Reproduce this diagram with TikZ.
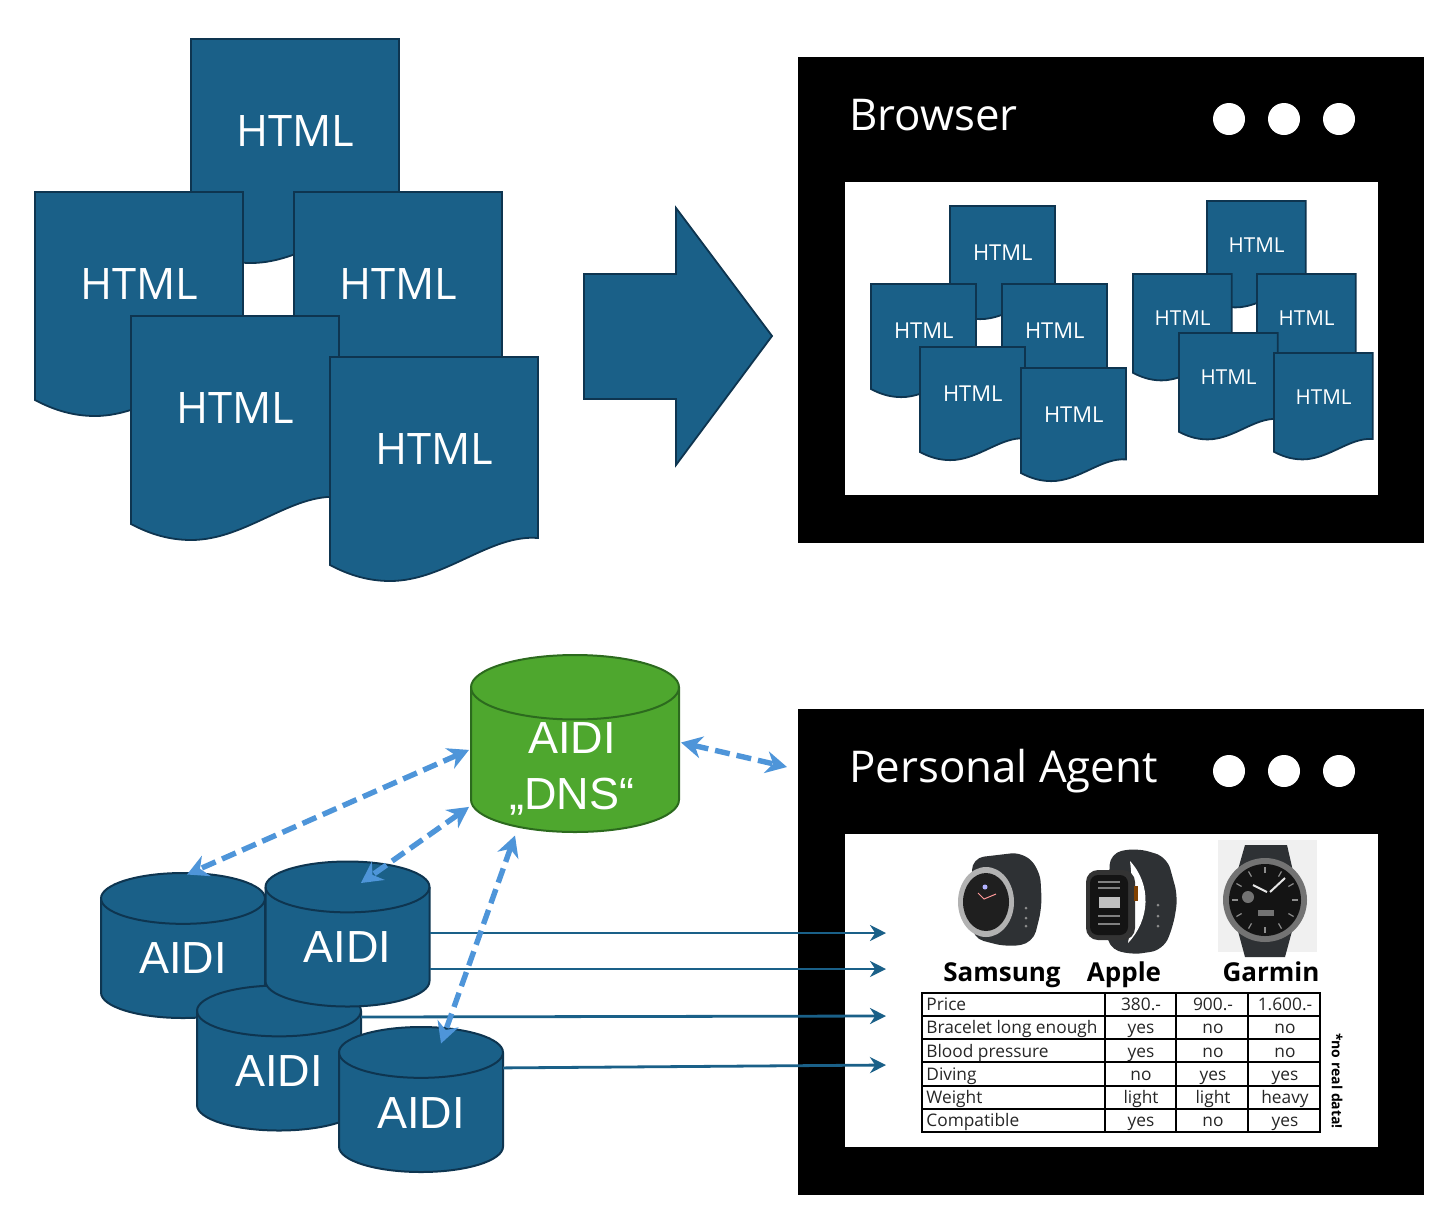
\documentclass[tikz,border=0pt]{standalone}
\usepackage{fontspec}
\setmainfont{Open Sans}
\newfontfamily\arialfont{Liberation Sans}
\usetikzlibrary{arrows.meta,calc}

\definecolor{docblue}{HTML}{1A6088}
\definecolor{docline}{HTML}{0E3550}
\definecolor{dnsgreen}{HTML}{4EA72E}
\definecolor{dnsline}{HTML}{2C6A1E}
\definecolor{linkblue}{HTML}{4E95D9}
\definecolor{strapgray}{HTML}{2E3134}

\tikzset{
    doc/.style={fill=docblue,draw=docline,line width=0.9pt},
    doclabel/.style={text=white,font=\fontsize{21.7}{24}\selectfont,transform shape,inner sep=0pt},
    window/.style={fill=black,minimum width=313pt,minimum height=243pt,inner sep=0pt,outer sep=0pt},
    pane/.style={fill=white,minimum width=266.5pt,minimum height=156.5pt,inner sep=0pt,outer sep=0pt},
    wintitle/.style={text=white,anchor=west,inner sep=0pt,font=\fontsize{21.9}{24}\selectfont},
    dot/.style={circle,fill=white,minimum size=16pt,inner sep=0pt},
    aidibody/.style={fill=docblue,draw=docline,line width=1pt},
    dnsbody/.style={fill=dnsgreen,draw=dnsline,line width=1pt},
    cyltext/.style={text=white,inner sep=0pt,font=\arialfont\fontsize{22.5}{28}\selectfont,align=center},
    flow/.style={draw=docblue,line width=1.4pt,-{Stealth[length=8pt,width=8pt]}},
    link/.style={draw=linkblue,line width=2.7pt,dash pattern=on 7.5pt off 3.5pt,
        {Stealth[length=10.5pt,width=11pt]}-{Stealth[length=10.5pt,width=11pt]}},
    cell/.style={inner sep=0pt,text=black!85,text height=6pt,text depth=1.5pt,font=\fontsize{8.65}{10}\selectfont},
    brand/.style={inner sep=0pt,anchor=base,font=\bfseries\fontsize{13}{14}\selectfont},
}

% one page: left, top, scale, name
\newcommand{\htmlpage}[4]{
    \begin{scope}[shift={(#1,#2)},scale=#3]
        \draw[doc] (0,0) -- (208,0) -- (208,181)
            .. controls (160,177) and (115,224) .. (60,224)
            .. controls (35,224) and (15,216) .. (0,208) -- cycle;
        \node[doclabel] (#4) at (104.5,92) {HTML};
    \end{scope}
}
% drum: name, centre x, centre y, half width, half height, style
\newcommand{\drum}[6]{
    \begin{scope}[shift={(#2,#3)}]
        \pgfmathsetmacro{\ry}{0.31*#4}
        \pgfmathsetmacro{\yt}{#5-\ry}
        \draw[#6] (-#4,-\yt) -- (-#4,\yt)
            arc[start angle=180,end angle=0,x radius=#4,y radius=\ry] -- (#4,-\yt)
            arc[start angle=0,end angle=-180,x radius=#4,y radius=\ry] -- cycle;
        \draw[#6,fill=none] (-#4,-\yt) arc[start angle=180,end angle=0,x radius=#4,y radius=\ry];
    \end{scope}
    \node[minimum width=#4pt,minimum height=#5pt,inner sep=0pt,outer sep=0pt] (#1) at (#2,#3) {};
}
\newcommand{\aidi}[3]{
    \drum{#1}{#2}{#3}{82}{72.5}{aidibody}
    \node[cyltext] (#1txt) at ([yshift=-6.5pt]#1.center) {AIDI};
}

\begin{document}
\begin{tikzpicture}[x=0.5pt,y=-0.5pt]
    \useasboundingbox (0,0) rectangle (1456,1206);

    % stacked pages
    \htmlpage{191}{39}{1}{top}
    \htmlpage{35}{192}{1}{left}
    \htmlpage{294}{192}{1}{right}
    \htmlpage{131}{316}{1}{mid}
    \htmlpage{330}{357}{1}{front}

    % big arrow
    \draw[doc] (584,274) -- (676,274) -- (676,208) -- (772,336) -- (676,465) -- (676,399) -- (584,399) -- cycle;

    % browser window
    \node[window] (browser) at (1111,300) {};
    \node[pane] (browserpane) at (1111.5,338.5) {};
    \node[wintitle] (browsertitle) at (849,115) {Browser};
    \foreach \i/\x in {1/1229,2/1284,3/1339}
        \node[dot] (bdot\i) at (\x,119) {};

    \htmlpage{950}{206}{0.505}{atop}
    \htmlpage{871}{284}{0.505}{aleft}
    \htmlpage{1002}{284}{0.505}{aright}
    \htmlpage{920}{347}{0.505}{amid}
    \htmlpage{1021}{368}{0.505}{afront}

    \htmlpage{1207}{201}{0.475}{btop}
    \htmlpage{1133}{274}{0.475}{bleft}
    \htmlpage{1257}{274}{0.475}{bright}
    \htmlpage{1179}{333}{0.475}{bmid}
    \htmlpage{1274}{353}{0.475}{bfront}

    % agent window
    \node[window] (agent) at (1111,951.5) {};
    \node[pane] (agentpane) at (1111.5,990.5) {};
    \node[wintitle] (agenttitle) at (849,771) {Personal Agent};
    \foreach \i/\x in {1/1229,2/1284,3/1339}
        \node[dot] (adot\i) at (\x,771) {};

    % samsung watch
    \fill[strapgray,rounded corners=6pt] (972,858) -- (1023,852) -- (1040,870) -- (1042,907)
        -- (1033,943) -- (1007,947) -- (972,938) -- cycle;
    \fill[black!30] (986,902) ellipse [x radius=28,y radius=35];
    \fill[black!88] (986,902) ellipse [x radius=23,y radius=29];
    \fill[white!70!blue] (985,887) circle (2.5);
    \draw[red!40!white,line width=0.5pt] (978,893) -- (984,899) -- (996,894);
    \foreach \y in {908,918,926}
        \fill[black!45] (1026,\y) circle (1.5);

    % apple watch
    \fill[strapgray,rounded corners=6pt] (1110,853) -- (1137,848) -- (1167,857) -- (1178,897)
        -- (1173,927) -- (1163,950) -- (1130,955) -- (1107,947) -- cycle;
    \fill[white] (1130,861) .. controls (1152,885) and (1150,920) .. (1128,943)
        .. controls (1133,915) and (1133,885) .. (1130,861);
    \fill[black!80,rounded corners=6pt] (1086,870) rectangle (1135,940);
    \fill[black!92,rounded corners=4pt] (1090,875) rectangle (1128,935);
    \fill[black!25] (1099,897) rectangle (1120,908);
    \foreach \y in {882,888,916,924}
        \draw[black!50,line width=0.8pt] (1098,\y) -- (1120,\y);
    \fill[orange!50!black] (1134,886) rectangle (1138,901);
    \foreach \y in {905,916,926}
        \fill[black!45] (1158,\y) circle (1.5);

    % garmin watch
    \fill[black!6] (1218,840) rectangle (1317,952);
    \fill[strapgray] (1245,845) -- (1287,845) -- (1295,880) -- (1295,920) -- (1285,957) -- (1245,957) -- (1235,920) -- (1235,880) -- cycle;
    \fill[black!55] (1265,900) circle (42);
    \fill[black!92] (1265,900) circle (36);
    \foreach \a in {0,30,...,330}
        \draw[black!45,line width=0.6pt] (1265,900) ++(\a:27) -- ++(\a:6);
    \draw[white!90!black,line width=1pt] (1267,892) -- (1253,885) (1270,892) -- (1285,878);
    \fill[black!55] (1248,897) circle (6);
    \fill[black!55] (1258,910) rectangle (1274,916);

    % brand names
    \node[brand] (samsung) at (1002,981) {Samsung};
    \node[brand] (apple) at (1124,981) {Apple};
    \node[brand] (garmin) at (1271,981) {Garmin};

    % table
    \draw[line width=0.6pt] (922,993) rectangle (1320,1132);
    \foreach \x in {1105,1176,1248}
        \draw[line width=0.6pt] (\x,993) -- (\x,1132);
    \foreach \y in {1016,1039,1062,1086,1109}
        \draw[line width=0.6pt] (922,\y) -- (1320,\y);
    \foreach \lab/\sam/\app/\gar [count=\r] in {
        Price/380.-/900.-/1.600.-,
        Bracelet long enough/yes/no/no,
        Blood pressure/yes/no/no,
        Diving/no/yes/yes,
        Weight/light/light/heavy,
        Compatible/yes/no/yes}
    {
        \pgfmathsetmacro{\ypos}{994.5+23.2*(\r-0.5)}
        \node[cell,anchor=west] (lab\r) at (926,\ypos) {\lab};
        \node[cell] (sam\r) at (1141,\ypos) {\sam};
        \node[cell] (app\r) at (1213,\ypos) {\app};
        \node[cell] (gar\r) at (1285,\ypos) {\gar};
    }
    \node[inner sep=0pt,rotate=-90,font=\bfseries\fontsize{7}{9}\selectfont] (note) at (1337,1081) {*no real data!};

    % cylinders
    \aidi{aidiA}{183}{945.5}
    \aidi{aidiC}{279}{1058}
    \aidi{aidiB}{347.5}{934}
    \aidi{aidiD}{421}{1099.5}
    \drum{dns}{575}{743.5}{104}{88.5}{dnsbody}
    \node[cyltext] (dnstxt) at ([xshift=-1.5pt,yshift=-12.7pt]dns.center) {AIDI\\„DNS“};

    % arrow targets on the agent side
    \coordinate (inA) at (886,933);
    \coordinate (inB) at (886,969);
    \coordinate (inC) at (886,1016);
    \coordinate (inD) at (886,1065);
    \coordinate (agentport) at (787,767);

    \draw[flow] ([yshift=0.5pt,xshift=41pt]aidiB.center) -- (inA);
    \draw[flow] ([yshift=-17.5pt,xshift=41pt]aidiB.center) -- (inB);
    \draw[flow] ([yshift=20.5pt,xshift=41pt]aidiC.center) -- (inC);
    \draw[flow] ([yshift=15.8pt,xshift=41pt]aidiD.center) -- (inD);

    % dashed links
    \draw[link] ([yshift=-3.2pt,xshift=-53pt]dns.center) -- ([xshift=2pt,yshift=35.5pt]aidiA.center);
    \draw[link] ([yshift=-31.7pt,xshift=-53pt]dns.center) -- ([xshift=6.7pt,yshift=25.5pt]aidiB.center);
    \draw[link] ([xshift=-30pt,yshift=-46pt]dns.center) -- ([xshift=10pt,yshift=28pt]aidiD.center);
    \draw[link] ([xshift=53pt,yshift=0.5pt]dns.center) -- (agentport);
\end{tikzpicture}
\end{document}
